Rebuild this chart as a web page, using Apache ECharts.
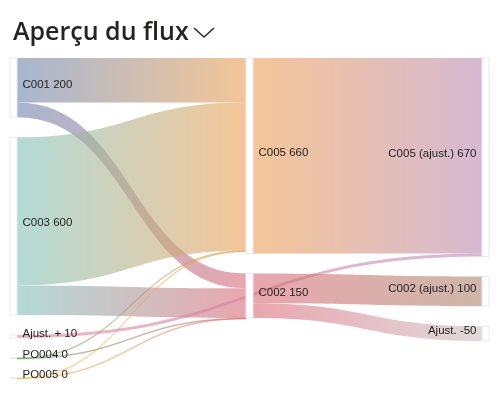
<!DOCTYPE html>
<html>
<head>
<meta charset="utf-8">
<script src="https://cdn.jsdelivr.net/npm/echarts@6/dist/echarts.min.js"></script>
<style>
html, body { margin: 0; padding: 0; background: #fff; }
#chart { width: 498px; height: 402px; }
</style>
</head>
<body>
<div id="chart"></div>
<script>
// nodes, in column order (depth 0, then 1, then 2)
const nodeNames = ["C001", "C003", "Ajust. +", "PO004", "PO005", "C005", "C002", "C005 (ajust.)", "C002 (ajust.)", "Ajust."]
const nodeValues = [200, 600, 10, 0, 0, 660, 150, 670, 100, -50]

// links
const linkSources = ["C001", "C001", "C003", "C003", "PO004", "PO004", "PO005", "PO005", "Ajust. +", "C005", "C002", "C002"]
const linkTargets = ["C005", "C002", "C005", "C002", "C005", "C002", "C005", "C002", "C005 (ajust.)", "C005 (ajust.)", "C002 (ajust.)", "Ajust."]
const linkValues = [150, 50, 500, 100, 0, 0, 0, 0, 10, 660, 100, 50]

const palette = {
	"C001": "#6c86b0",
	"C003": "#80c2bb",
	"Ajust. +": "#ec7d95",
	"PO004": "#5f9d58",
	"PO005": "#efbd45",
	"C005": "#ec9f52",
	"C002": "#da6b77",
	"C005 (ajust.)": "#bb8ab2",
	"C002 (ajust.)": "#ad866f",
	"Ajust.": "#cdbfc2"
}

const chart = echarts.init(document.getElementById("chart"))

const grad = (a, b) => new echarts.graphic.LinearGradient(0, 0, 1, 0, [
	{ offset: 0, color: palette[a] },
	{ offset: 1, color: palette[b] }
])

const nodes = nodeNames.map((n, i) => ({ name: n, value: nodeValues[i] }))
const links = linkSources.map((s, i) => {
	let t = linkTargets[i]
	let link = { source: s, target: t, value: linkValues[i], lineStyle: { color: grad(s, t) } }
	// zero flows still get a hairline
	if (linkValues[i] === 0) {
		link.lineStyle.borderColor = grad(s, t)
		link.lineStyle.borderWidth = 0.5
		link.lineStyle.opacity = 0.5
	}
	return link
})

chart.setOption({
	animation: false,
	title: {
		text: "Aperçu du flux",
		left: 8,
		top: 15,
		textStyle: {
			fontFamily: "Open Sans",
			fontSize: 25,
			fontWeight: 600,
			color: "#252423"
		}
	},
	graphic: [
		{
			type: "polyline",
			shape: { points: [[194, 28], [204, 37], [214, 28]] },
			style: { stroke: "#252423", lineWidth: 1.4, fill: null }
		}
	],
	series: [
		{
			type: "sankey",
			left: 10,
			right: 9,
			top: 58,
			bottom: 24,
			nodeWidth: 7,
			nodeGap: 20,
			layoutIterations: 0,
			data: nodes,
			links: links,
			itemStyle: {
				color: "#ffffff",
				borderColor: "#e8e8f4",
				borderWidth: 1
			},
			lineStyle: {
				opacity: 0.6,
				curveness: 0.5
			},
			label: {
				formatter: "{b} {c}",
				fontFamily: "Liberation Sans",
				fontSize: 11.5,
				color: "#252423",
				offset: [0, -3]
			},
			levels: [
				{ depth: 2, label: { position: "left" } }
			],
			emphasis: { disabled: true }
		}
	]
})
</script>
</body>
</html>
